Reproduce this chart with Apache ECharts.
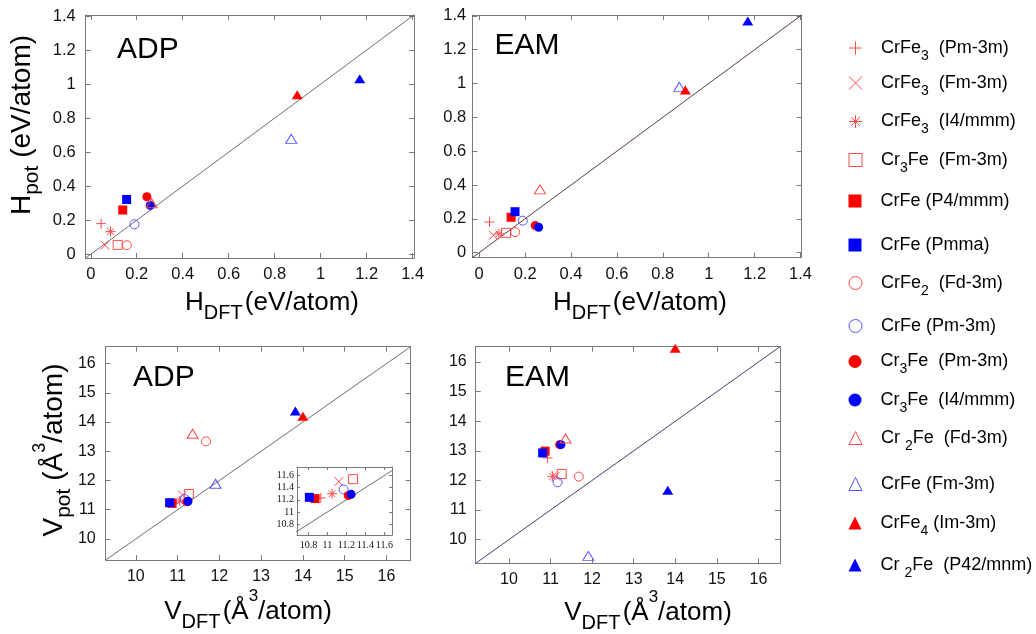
<!DOCTYPE html>
<html><head><meta charset="utf-8">
<script src="https://cdn.jsdelivr.net/npm/echarts@6/dist/echarts.min.js"></script>
<style>html,body{margin:0;padding:0;background:#fff}#c{width:1036px;height:634px}</style>
</head><body><div id="c"></div>
<script>
// ---- data ----
const materials = ['CrFe3 (Pm-3m)','CrFe3 (Fm-3m)','CrFe3 (I4/mmm)','Cr3Fe (Fm-3m)','CrFe (P4/mmm)','CrFe (Pmma)','CrFe2 (Fd-3m)','CrFe (Pm-3m)','Cr3Fe (Pm-3m)','Cr3Fe (I4/mmm)','Cr2Fe (Fd-3m)','CrFe (Fm-3m)','CrFe4 (Im-3m)','Cr2Fe (P42/mnm)'];
const legendLabels = [
  '{g| }{m|CrFe}{s|3}{m|  (Pm-3m)}',
  '{g| }{m|CrFe}{s|3}{m|  (Fm-3m)}',
  '{g| }{m|CrFe}{s|3}{m|  (I4/mmm)}',
  '{g| }{m|Cr}{s|3}{m|Fe  (Fm-3m)}',
  '{g| }{m|CrFe (P4/mmm)}',
  '{g| }{m|CrFe (Pmma)}',
  '{g| }{m|CrFe}{s|2}{m|  (Fd-3m)}',
  '{g| }{m|CrFe (Pm-3m)}',
  '{g| }{m|Cr}{s|3}{m|Fe  (Pm-3m)}',
  '{g| }{m|Cr}{s|3}{m|Fe  (I4/mmm)}',
  '{g| }{m|Cr }{s|2}{m|Fe  (Fd-3m)}',
  '{g| }{m|CrFe (Fm-3m)}',
  '{g| }{m|CrFe}{s|4}{m| (Im-3m)}',
  '{g| }{m|Cr }{s|2}{m|Fe  (P42/mnm)}'
];
const hDFT = [0.045,0.062,0.086,0.117,0.139,0.156,0.157,0.190,0.244,0.259,0.265,0.872,0.898,1.170];
const hADP = [0.180,0.053,0.133,0.055,0.260,0.322,0.053,0.176,0.338,0.287,0.300,0.678,0.937,1.031];
const hEAM = [0.181,0.103,0.111,0.117,0.209,0.242,0.121,0.189,0.160,0.150,0.374,0.980,0.961,1.370];
const vDFT = [10.93,11.12,11.05,11.27,10.87,10.81,11.68,11.17,11.22,11.25,11.36,11.91,14.00,13.82];
const vADP = [11.23,11.50,11.30,11.54,11.22,11.24,13.34,11.37,11.27,11.29,13.60,11.89,14.20,14.38];
const vEAM = [12.76,12.15,12.14,12.22,12.99,12.93,12.13,11.94,13.21,13.21,13.42,9.45,16.47,11.67];
const hTicks = [0,0.2,0.4,0.6,0.8,1,1.2,1.4];
const vTicks = [10,11,12,13,14,15,16];
const insetTicks = [10.8,11,11.2,11.4,11.6];

// ---- styles ----
const RED='#ff0000', BLUE='#0000ff', ORED='#ff4a4a', OBLUE='#5555ff';
const PLUS='path://M5,0L5,10M0,5L10,5', CROSS='path://M0,0L10,10M0,10L10,0',
      STAR='path://M5,0L5,10M0,5L10,5M1.6,1.6L8.4,8.4M1.6,8.4L8.4,1.6';
const markerStyle = [
  {sym:PLUS,size:10,color:ORED,fill:false},
  {sym:CROSS,size:9,color:ORED,fill:false},
  {sym:STAR,size:10,color:ORED,fill:false},
  {sym:'rect',size:9,color:ORED,fill:false},
  {sym:'rect',size:9,color:RED,fill:true},
  {sym:'rect',size:9,color:BLUE,fill:true},
  {sym:'circle',size:9,color:ORED,fill:false},
  {sym:'circle',size:9,color:OBLUE,fill:false},
  {sym:'circle',size:9,color:RED,fill:true},
  {sym:'circle',size:9,color:BLUE,fill:true},
  {sym:'triangle',size:[11,9],color:ORED,fill:false},
  {sym:'triangle',size:[11,9],color:OBLUE,fill:false},
  {sym:'triangle',size:[11,9],color:RED,fill:true},
  {sym:'triangle',size:[11,9],color:BLUE,fill:true}
];
const F = 'Liberation Sans, Arial, sans-serif';
const legendRowY = [48,83,121.5,160,200,244,283,325,361.5,400,438,483,523,565];

const grids = [
  {left:85.7, top:15, width:328.3, height:243},
  {left:472.3, top:15, width:329.4, height:242.7},
  {left:105.7, top:346.7, width:305, height:213.3},
  {left:475.7, top:346.7, width:304.3, height:216.6},
  {left:297, top:467, width:95, height:68, show:true, backgroundColor:'#fff', borderWidth:0}
];
const panels = [
  {x:hDFT, y:hADP, xr:[-0.022,1.406], yr:[-0.022,1.406], ticks:hTicks, line:'#6e6e6e', fs:16.5, xm:8, ym:10, lf:F},
  {x:hDFT, y:hEAM, xr:[-0.03,1.405], yr:[-0.03,1.405], ticks:hTicks, line:'#5a3c3c', fs:16.5, xm:8, ym:6, lf:F},
  {x:vDFT, y:vADP, xr:[9.28,16.58], yr:[9.28,16.58], ticks:vTicks, line:'#6e6e6e', fs:16, xm:9, ym:10, lf:F},
  {x:vDFT, y:vEAM, xr:[9.2,16.52], yr:[9.2,16.52], ticks:vTicks, line:'#4b3b6e', fs:16, xm:8, ym:9, lf:F},
  {x:vDFT, y:vADP, xr:[10.68,11.68], yr:[10.62,11.74], ticks:insetTicks, line:'#6e6e6e', fs:10, xm:5, ym:3, lf:'Liberation Serif, serif'}
];
const fmt = v => String(+v.toFixed(1));
const AX = '#7a7a7a';
function axis(kind, g, pos, p, showLabel){
  const r = kind==='x' ? p.xr : p.yr;
  return {type:'value', gridIndex:g, position:pos, min:r[0], max:r[1],
    axisLine:{show:true, onZero:false, lineStyle:{color:AX, width:1}},
    axisTick:{show:true, inside:true, length:g===4?3:5, customValues:p.ticks, lineStyle:{color:AX}},
    axisLabel:{show:showLabel, customValues:p.ticks, margin:kind==='x'?p.xm:p.ym, fontSize:p.fs, fontFamily:p.lf, color:'#111', formatter:fmt},
    splitLine:{show:false}};
}
const xAxis=[], yAxis=[], series=[];
panels.forEach((p,g)=>{
  xAxis.push(axis('x',g,'bottom',p,true)); xAxis.push(axis('x',g,'top',p,false));
  yAxis.push(axis('y',g,'left',p,true)); yAxis.push(axis('y',g,'right',p,false));
  const lo=Math.min(p.xr[0],p.yr[0]), hi=Math.max(p.xr[1],p.yr[1]);
  series.push({type:'line', xAxisIndex:2*g, yAxisIndex:2*g, data:[[lo,lo],[hi,hi]], symbol:'none', silent:true, clip:true,
    lineStyle:{color:p.line, width:1}, z:1});
  materials.forEach((m,i)=>{
    const s=markerStyle[i];
    series.push({type:'scatter', name:m, xAxisIndex:2*g, yAxisIndex:2*g, clip:true,
      symbol:s.sym, symbolSize:s.size, data:[[p.x[i],p.y[i]]],
      itemStyle: s.fill ? {color:s.color, opacity:1} : {color:'rgba(0,0,0,0)', borderColor:s.color, borderWidth:1, opacity:1},
      z:2});
  });
});
const legend = materials.map((m,i)=>{
  const hasSub = legendLabels[i].indexOf('{s|') >= 0;
  return {
  data:[m], orient:'vertical', left:848.5, top:legendRowY[i]-15+(hasSub?0:7), padding:0, itemWidth:13, itemHeight:13,
  selectedMode:false, formatter:()=>legendLabels[i],
  itemStyle:{borderWidth:1},
  textStyle:{color:'#000', rich:{
    g:{width:14, fontSize:10, lineHeight:30},
    m:{fontSize:18, fontFamily:F, lineHeight:30, color:'#000', verticalAlign:'middle'},
    s:{fontSize:14, fontFamily:F, lineHeight:14, padding:[16,0,0,0], color:'#000', verticalAlign:'middle'}
  }}};
});
function rich(size, sub, supShift){
  return {
    m:{fontSize:size, fontFamily:F, lineHeight:size+14, fill:'#000', verticalAlign:'middle'},
    s:{fontSize:sub, fontFamily:F, lineHeight:sub, padding:[20,0,0,0], fill:'#000', verticalAlign:'middle'},
    p:{fontSize:sub-3, fontFamily:F, lineHeight:sub, padding:[0,0,supShift*2,0], fill:'#000', verticalAlign:'middle'},
    t:{fontSize:8, fontFamily:F, lineHeight:8, verticalAlign:'middle'}
  };
}
const hTitleX='{m|H}{s|DFT}{t| }{m|(eV/atom)}', vTitleX='{m|V}{s|DFT}{t| }{m|(Å}{p|3}{m|/atom)}';
const hTitleY='{m|H}{s|pot}{m| (eV/atom)}', vTitleY='{m|V}{s|pot}{m| (Å}{p|3}{m|/atom)}';
function txt(text, x, y, opts){
  return Object.assign({type:'text', x, y, silent:true, style:{text, align:'center', verticalAlign:'middle', fill:'#000'}}, opts||{});
}
const graphic = [
  txt(hTitleY, 22, 125, {rotation:Math.PI/2, style:{text:hTitleY, align:'center', verticalAlign:'middle', rich:rich(28,21,10)}}),
  txt(vTitleY, 54, 450, {rotation:Math.PI/2, style:{text:vTitleY, align:'center', verticalAlign:'middle', rich:rich(28,21,14)}}),
  txt(hTitleX, 272, 303, {style:{text:hTitleX, align:'center', verticalAlign:'middle', rich:rich(26,20,18)}}),
  txt(hTitleX, 640, 303, {style:{text:hTitleX, align:'center', verticalAlign:'middle', rich:rich(26,20,18)}}),
  txt(vTitleX, 248, 612, {style:{text:vTitleX, align:'center', verticalAlign:'middle', rich:rich(26,20,16)}}),
  txt(vTitleX, 648, 613, {style:{text:vTitleX, align:'center', verticalAlign:'middle', rich:rich(26,20,16)}}),
  {type:'text', x:117, y:50, silent:true, style:{text:'ADP', fontSize:30, fontFamily:F, fill:'#000', align:'left', verticalAlign:'middle'}},
  {type:'text', x:494.5, y:46, silent:true, style:{text:'EAM', fontSize:30, fontFamily:F, fill:'#000', align:'left', verticalAlign:'middle'}},
  {type:'text', x:133, y:378, silent:true, style:{text:'ADP', fontSize:30, fontFamily:F, fill:'#000', align:'left', verticalAlign:'middle'}},
  {type:'text', x:505, y:377.5, silent:true, style:{text:'EAM', fontSize:30, fontFamily:F, fill:'#000', align:'left', verticalAlign:'middle'}}
];
const chart = echarts.init(document.getElementById('c'));
chart.setOption({animation:false, backgroundColor:'#fff', grid:grids, xAxis, yAxis, series, legend, graphic});
</script></body></html>
